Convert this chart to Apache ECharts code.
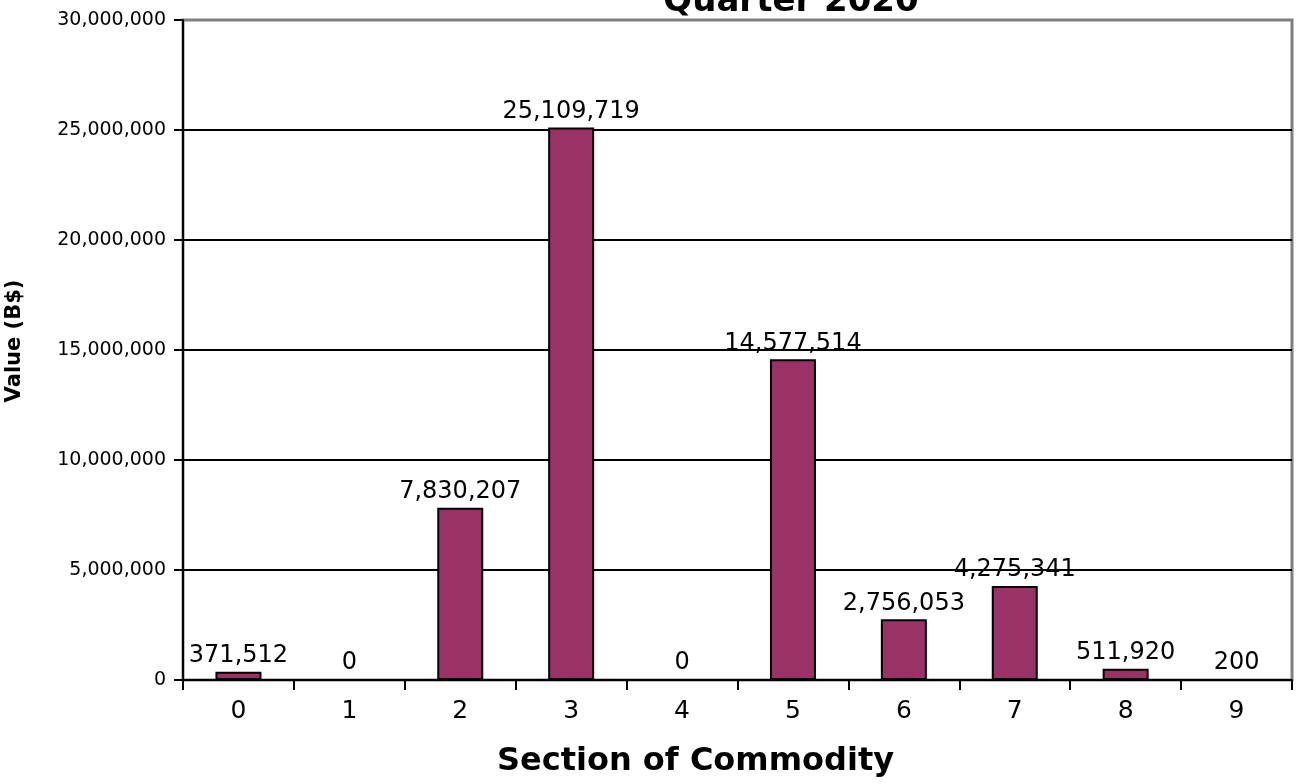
<!DOCTYPE html>
<html><head><meta charset="utf-8">
<script src="https://cdn.jsdelivr.net/npm/echarts@6/dist/echarts.min.js"></script>
<style>html,body{margin:0;padding:0;background:#fff;overflow:hidden}#c{width:1296px;height:784px}</style>
</head><body><div id="c"></div>
<script>
const categories = ['0','1','2','3','4','5','6','7','8','9'];
const values = [371512, 0, 7830207, 25109719, 0, 14577514, 2756053, 4275341, 511920, 200];
const yTicks = {min: 0, max: 30000000, interval: 5000000};
const titleText = 'Quarter 2020';
const xName = 'Section of Commodity';
const yName = 'Value (B$)';

const FONT = 'DejaVu Sans';
const fmt = v => Math.round(v).toLocaleString('en-US');
const chart = echarts.init(document.getElementById('c'));
chart.setOption({
  animation: false,
  backgroundColor: '#fff',
  title: {text: titleText, left: 786, textAlign: 'center', top: -20,
    textStyle: {fontFamily: FONT, fontWeight: 'bold', fontSize: 34, color: '#000'}},
  grid: {left: 183, right: 4, top: 20, bottom: 104, outerBoundsMode: 'none', containLabel: false,
    show: true, borderColor: '#808080', borderWidth: 3, backgroundColor: '#fff'},
  xAxis: {type: 'category', data: categories,
    name: xName, nameLocation: 'middle', nameGap: 66,
    nameTextStyle: {fontFamily: FONT, fontWeight: 'bold', fontSize: 32, color: '#000', padding: [0, 84, 0, 0]},
    axisLine: {lineStyle: {color: '#000', width: 2}},
    axisTick: {show: true, alignWithLabel: false, length: 10, lineStyle: {color: '#000', width: 2}},
    axisLabel: {fontFamily: FONT, fontSize: 25, color: '#000', margin: 19}},
  yAxis: {type: 'value', min: yTicks.min, max: yTicks.max, interval: yTicks.interval,
    name: yName, nameLocation: 'middle', nameGap: 158, nameRotate: 90,
    nameTextStyle: {fontFamily: FONT, fontWeight: 'bold', fontSize: 21, color: '#000', padding: [0, 0, 0, 18]},
    axisLine: {show: true, lineStyle: {color: '#000', width: 2}},
    axisTick: {show: true, inside: false, length: 9, lineStyle: {color: '#000', width: 2}},
    splitLine: {show: true, lineStyle: {color: ['#000','#000','#000','#000','#000','#000','#808080'], width: 2}},
    axisLabel: {fontFamily: FONT, fontSize: 19, color: '#000', margin: 17, formatter: fmt}},
  series: [{type: 'bar', data: values, barWidth: 46,
    itemStyle: {color: '#993366', borderColor: '#000', borderWidth: 2},
    label: {show: true, position: 'top', distance: 4, formatter: p => fmt(p.value),
      fontFamily: FONT, fontSize: 24, color: '#000'}}]
});
</script></body></html>
